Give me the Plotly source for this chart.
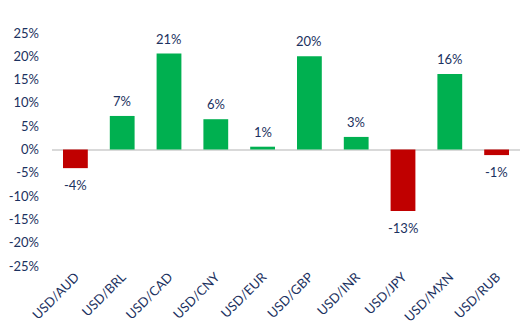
import plotly.graph_objects as go

# Currency pairs and their change
pairs = ["USD/AUD", "USD/BRL", "USD/CAD", "USD/CNY", "USD/EUR",
         "USD/GBP", "USD/INR", "USD/JPY", "USD/MXN", "USD/RUB"]
changes = [-0.040, 0.072, 0.206, 0.065, 0.006, 0.200, 0.027, -0.132, 0.162, -0.012]
y_ticks = [-0.25, -0.20, -0.15, -0.10, -0.05, 0.0, 0.05, 0.10, 0.15, 0.20, 0.25]

GREEN = "#00B050"
RED = "#C00000"
TEXT = "#1B3160"
FONT = "Lato"

colors = [GREEN if v >= 0 else RED for v in changes]

fig = go.Figure(go.Bar(
    x=pairs, y=changes, marker_color=colors, marker_line_width=0,
    hoverinfo="skip",
))

# value labels above positive bars and below negative ones
for p, v in zip(pairs, changes):
    fig.add_annotation(
        x=p, y=v, text=f"{v*100:.0f}%", showarrow=False,
        yanchor="bottom" if v >= 0 else "top",
        yshift=5 if v >= 0 else -7,
        font=dict(family=FONT, size=13, color=TEXT),
    )

fig.update_layout(
    width=527, height=336,
    margin=dict(l=52, r=7, t=33, b=70),
    paper_bgcolor="white", plot_bgcolor="white",
    bargap=0.47, showlegend=False,
    font=dict(family=FONT, size=13, color=TEXT),
)
fig.update_xaxes(
    tickangle=-45, showgrid=False, showline=False, zeroline=False,
    ticks="", tickfont=dict(family=FONT, size=13, color=TEXT),
)
fig.update_yaxes(
    range=[-0.25, 0.25], tickvals=y_ticks,
    ticktext=[f"{t*100:.0f}%" for t in y_ticks],
    showgrid=False, showline=False, zeroline=True,
    zerolinecolor="#D9D9D9", zerolinewidth=1.5,
    ticks="", ticklabelstandoff=12,
    tickfont=dict(family=FONT, size=13, color=TEXT),
)

fig.write_html("out.html")
